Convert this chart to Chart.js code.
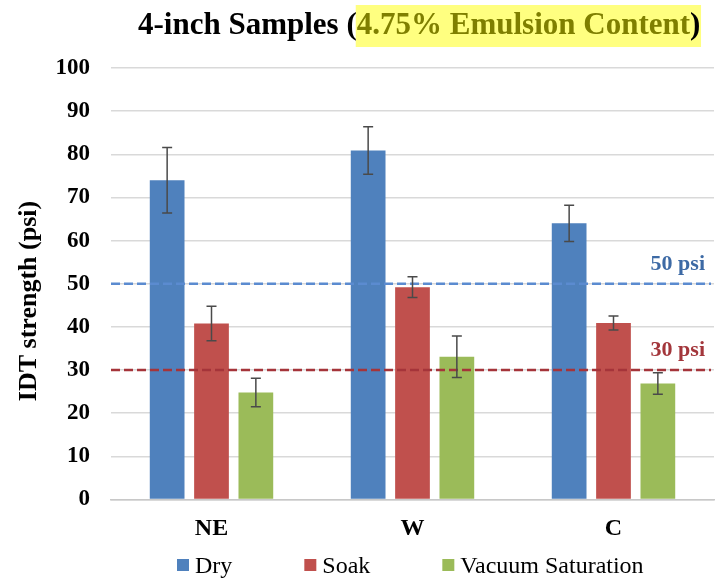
<!DOCTYPE html>
<html>
<head>
<meta charset="utf-8">
<script src="https://cdn.jsdelivr.net/npm/chart.js@4"></script>
<style>
  html, body { margin: 0; padding: 0; background: #fff; }
  #wrap { width: 718px; height: 584px; }
</style>
</head>
<body>
<div id="wrap"><canvas id="chart" width="718" height="584"></canvas></div>
<script>
const categories = ['NE', 'W', 'C'];
const seriesNames = ['Dry', 'Soak', 'Vacuum Saturation'];
const dryValues = [74.0, 80.9, 64.0];
const soakValues = [40.8, 49.2, 40.9];
const vacValues = [24.8, 33.1, 26.9];
const dryErrors = [7.6, 5.5, 4.2];
const soakErrors = [4.0, 2.4, 1.6];
const vacErrors = [3.3, 4.8, 2.5];
const yTicks = [0, 10, 20, 30, 40, 50, 60, 70, 80, 90, 100];
const limitValues = [50, 30];
const limitLabels = ['50 psi', '30 psi'];

const SERIF = '"Liberation Serif", "Times New Roman", serif';
const seriesColors = ['#4f81bd', '#c0504d', '#9bbb59'];
const limitLineColors = ['#5b8bd0', '#a5343a'];
const limitTextColors = ['#3d6aa5', '#a3363b'];

const errorBars = {
  id: 'errorBars',
  afterDatasetsDraw(chart) {
    const ctx = chart.ctx;
    const y = chart.scales.y;
    const errs = [dryErrors, soakErrors, vacErrors];
    ctx.save();
    ctx.strokeStyle = '#4a4a4a';
    ctx.lineWidth = 1.5;
    chart.data.datasets.forEach((ds, i) => {
      chart.getDatasetMeta(i).data.forEach((bar, j) => {
        const v = ds.data[j], e = errs[i][j];
        const top = y.getPixelForValue(v + e);
        const bot = y.getPixelForValue(v - e);
        ctx.beginPath();
        ctx.moveTo(bar.x, top); ctx.lineTo(bar.x, bot);
        ctx.moveTo(bar.x - 5, top); ctx.lineTo(bar.x + 5, top);
        ctx.moveTo(bar.x - 5, bot); ctx.lineTo(bar.x + 5, bot);
        ctx.stroke();
      });
    });
    ctx.restore();
  }
};

const limitLines = {
  id: 'limitLines',
  afterDatasetsDraw(chart) {
    const ctx = chart.ctx;
    const area = chart.chartArea;
    const y = chart.scales.y;
    ctx.save();
    limitValues.forEach((v, i) => {
      const py = y.getPixelForValue(v);
      ctx.strokeStyle = limitLineColors[i];
      ctx.lineWidth = 2.5;
      ctx.setLineDash([9, 4]);
      ctx.beginPath();
      ctx.moveTo(area.left, py);
      ctx.lineTo(area.right - 3, py);
      ctx.stroke();
      ctx.setLineDash([]);
      ctx.fillStyle = limitTextColors[i];
      ctx.font = 'bold 22px ' + SERIF;
      ctx.textAlign = 'right';
      ctx.textBaseline = 'alphabetic';
      ctx.fillText(limitLabels[i], 705, py - 14);
    });
    ctx.restore();
  }
};

const decorations = {
  id: 'decorations',
  afterDraw(chart) {
    const ctx = chart.ctx;
    ctx.save();
    // title, with the highlighted part
    ctx.font = 'bold 31px ' + SERIF;
    ctx.textBaseline = 'alphabetic';
    ctx.textAlign = 'left';
    const p1 = '4-inch Samples (', p2 = '4.75% Emulsion Content', p3 = ')';
    let x = 138;
    const w1 = ctx.measureText(p1).width;
    const w2 = ctx.measureText(p2).width;
    ctx.fillStyle = '#ffff80';
    ctx.fillRect(x + w1 - 1, 5, w2 + 12, 42);
    ctx.fillStyle = '#000';
    ctx.fillText(p1, x, 34);
    ctx.fillStyle = '#7f7f00';
    ctx.fillText(p2, x + w1, 34);
    ctx.fillStyle = '#000';
    ctx.fillText(p3, x + w1 + w2, 34);

    // y axis title
    ctx.save();
    ctx.translate(36, 301);
    ctx.rotate(-Math.PI / 2);
    ctx.font = 'bold 26px ' + SERIF;
    ctx.textAlign = 'center';
    ctx.fillStyle = '#000';
    ctx.fillText('IDT strength (psi)', 0, 0);
    ctx.restore();

    // legend
    ctx.font = '24px ' + SERIF;
    ctx.textAlign = 'left';
    let lx = 177;
    seriesNames.forEach((name, i) => {
      ctx.fillStyle = seriesColors[i];
      ctx.fillRect(lx, 559, 12, 12);
      ctx.fillStyle = '#000';
      ctx.fillText(name, lx + 18, 573);
      lx += 18 + ctx.measureText(name).width + 72;
    });
    ctx.restore();
  }
};

const makeSet = (label, data, color) => ({
  label,
  data,
  backgroundColor: color,
  borderWidth: 0,
  categoryPercentage: 0.662,
  barPercentage: 0.783
});

new Chart(document.getElementById('chart'), {
  type: 'bar',
  data: {
    labels: categories,
    datasets: [
      makeSet(seriesNames[0], dryValues, seriesColors[0]),
      makeSet(seriesNames[1], soakValues, seriesColors[1]),
      makeSet(seriesNames[2], vacValues, seriesColors[2])
    ]
  },
  options: {
    responsive: false,
    animation: false,
    layout: { padding: { top: 68, right: 4, left: 0, bottom: 0 } },
    plugins: {
      legend: { display: false },
      title: { display: false },
      tooltip: { enabled: false }
    },
    scales: {
      x: {
        afterFit: s => { s.height = 84.5; },
        grid: { display: false, drawTicks: false },
        border: { display: true, color: '#c8c8c8', width: 1.5 },
        ticks: { color: '#000', padding: 15, font: { family: SERIF, size: 24, weight: 'bold' } }
      },
      y: {
        min: 0,
        max: 100,
        afterFit: s => { s.width = 111; },
        afterBuildTicks: s => { s.ticks = yTicks.map(v => ({ value: v })); },
        grid: { color: '#d9d9d9', lineWidth: 1.5, drawTicks: false },
        border: { display: false },
        ticks: { color: '#000', padding: 21, font: { family: SERIF, size: 23, weight: 'bold' } }
      }
    }
  },
  plugins: [limitLines, errorBars, decorations]
});
</script>
</body>
</html>
